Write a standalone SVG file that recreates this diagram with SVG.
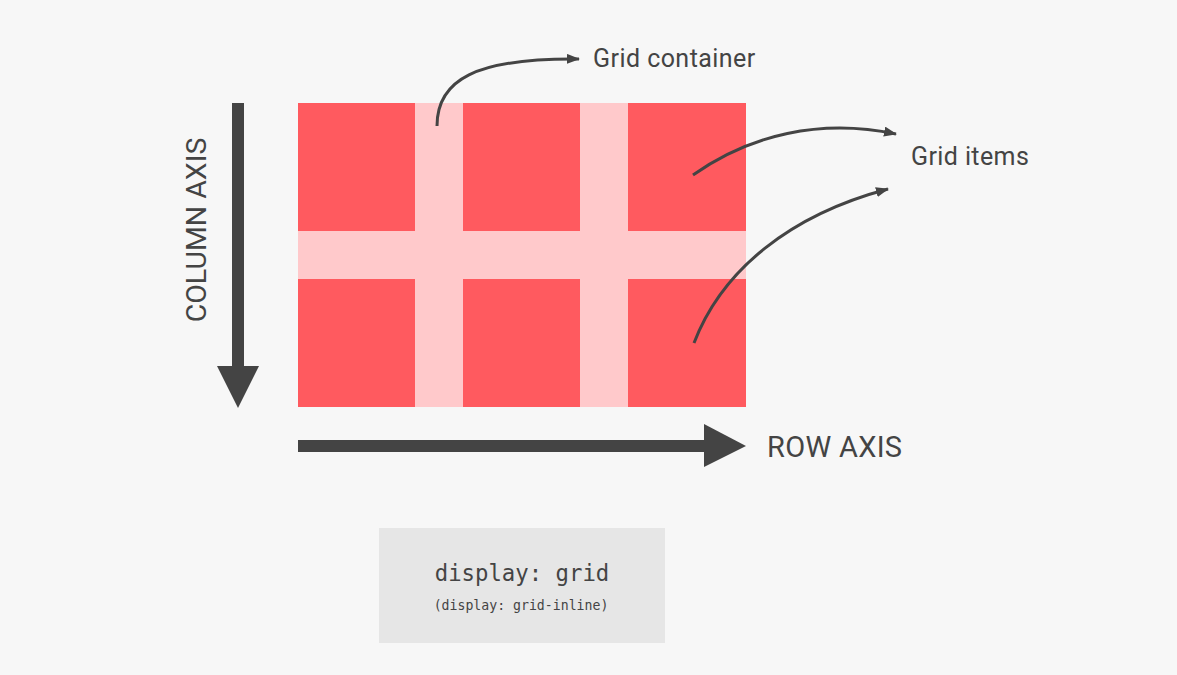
<svg xmlns="http://www.w3.org/2000/svg" width="1177" height="675" viewBox="0 0 1177 675">
<style>
.lbl{font-family:Roboto,"Liberation Sans",sans-serif;fill:#444;}
.code{font-family:"DejaVu Sans Mono","Liberation Mono",monospace;fill:#444;text-anchor:middle;}
.cell{fill:#ff5a5f;}
.conn{fill:none;stroke:#444;stroke-width:3;}
.axis{fill:#444;}
</style>
<defs>
<marker id="ah" markerWidth="14" markerHeight="12" refX="12" refY="5" orient="auto" markerUnits="userSpaceOnUse">
<path d="M0,0 L13,5 L0,10 Z" fill="#444"/>
</marker>
</defs>
<rect width="1177" height="675" fill="#f7f7f7"/>
<g id="grid-container">
<rect x="298" y="103" width="448" height="304" fill="#ffc9cb"/>
</g>
<g id="item-1"><rect class="cell" x="298" y="103" width="117" height="128"/></g>
<g id="item-2"><rect class="cell" x="463" y="103" width="117" height="128"/></g>
<g id="item-3"><rect class="cell" x="628" y="103" width="118" height="128"/></g>
<g id="item-4"><rect class="cell" x="298" y="279" width="117" height="128"/></g>
<g id="item-5"><rect class="cell" x="463" y="279" width="117" height="128"/></g>
<g id="item-6"><rect class="cell" x="628" y="279" width="118" height="128"/></g>
<g id="column-axis">
<rect class="axis" x="232" y="103" width="12" height="264"/>
<path class="axis" d="M217,366 L259,366 L238,408 Z"/>
<text class="lbl" font-size="28.5" transform="translate(206,230) rotate(-90)" text-anchor="middle">COLUMN AXIS</text>
</g>
<g id="row-axis">
<rect class="axis" x="298" y="440" width="408" height="12"/>
<path class="axis" d="M704,424 L704,467 L746,446 Z"/>
<text class="lbl" font-size="29" letter-spacing="0.3" x="767" y="457">ROW AXIS</text>
</g>
<g id="label-grid-container">
<text class="lbl" font-size="25" letter-spacing="0.45" x="593" y="67">Grid container</text>
</g>
<g id="label-grid-items">
<text class="lbl" font-size="25" letter-spacing="0.4" x="911" y="165">Grid items</text>
</g>
<g id="connectors">
<path class="conn" marker-end="url(#ah)" d="M437,126 C437,80 475,58 579,59"/>
<path class="conn" marker-end="url(#ah)" d="M693,175 C750,135 820,118 896,134"/>
<path class="conn" marker-end="url(#ah)" d="M694,343 C722,270 790,215 888,189"/>
</g>
<g id="code-box">
<rect x="379" y="528" width="286" height="115" fill="#e6e6e6"/>
<text class="code" font-size="22.3" x="522" y="581">display: grid</text>
<text class="code" font-size="13.2" x="521" y="610">(display: grid-inline)</text>
</g>
</svg>
